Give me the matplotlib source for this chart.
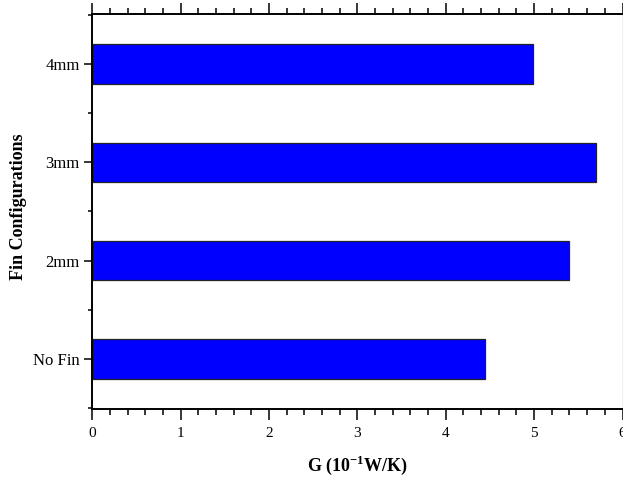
import numpy as np
import matplotlib
matplotlib.use("Agg")
import matplotlib.pyplot as plt
from matplotlib.ticker import MultipleLocator, FixedLocator

# data
configs = ["No Fin", "2mm", "3mm", "4mm"]
g_values = [4.44, 5.39, 5.70, 4.99]

plt.rcParams['font.family'] = ['Liberation Serif', 'DejaVu Serif']
plt.rcParams['mathtext.fontset'] = 'custom'
plt.rcParams['mathtext.rm'] = 'Liberation Serif'
plt.rcParams['mathtext.bf'] = 'Liberation Serif:bold'

W, H = 623, 480
fig = plt.figure(figsize=(6.23, 4.8), dpi=100)
ax = fig.add_axes([92.3 / W, 1 - 409 / H, (622.5 - 92.3) / W, (409 - 14) / H])

ypos = np.arange(len(configs))
ax.barh(ypos, g_values, height=0.4, color="#0000ff", edgecolor="#222222", linewidth=0.9)

ax.set_xlim(0, 6)
ax.set_ylim(-0.51, 3.51)
ax.set_yticks(ypos)
ax.set_yticklabels(configs, fontsize=12)
ax.yaxis.set_minor_locator(FixedLocator([-0.5, 0.5, 1.5, 2.5, 3.5]))
ax.xaxis.set_major_locator(MultipleLocator(1))
ax.xaxis.set_minor_locator(MultipleLocator(0.2))

ax.tick_params(axis="x", which="both", direction="out", top=True, labeltop=False,
               width=1.1, labelsize=11, pad=5)
ax.tick_params(axis="x", which="major", length=8)
ax.tick_params(axis="x", which="minor", length=4)
ax.tick_params(axis="y", which="major", direction="out", length=6, width=1.1, pad=3)
ax.tick_params(axis="y", which="minor", direction="out", length=3, width=1.1)

for side in ["left", "bottom", "top"]:
    ax.spines[side].set_linewidth(1.4)
ax.spines["right"].set_color("#bbbbbb")
ax.spines["right"].set_linewidth(1.0)

# axis titles placed where the reference has them
fig.text(357.5 / W, 1 - 465 / H, r"G (10$^{\mathbf{-1}}$W/K)", fontsize=13,
         fontweight="bold", ha="center", va="center")
fig.text(19 / W, 1 - 207 / H, "Fin Configurations", fontsize=13,
         fontweight="bold", rotation=90, ha="center", va="center")

fig.savefig("out.png", dpi=100)
